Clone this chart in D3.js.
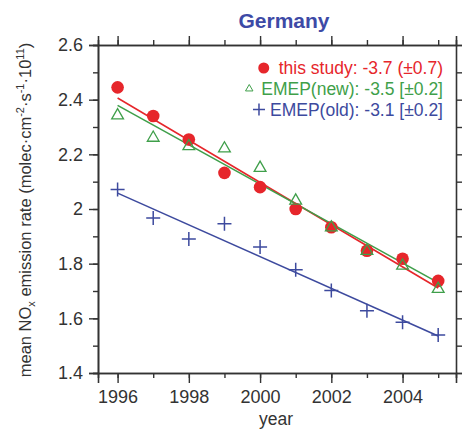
<!DOCTYPE html>
<html>
<head>
<meta charset="utf-8">
<script src="https://cdn.jsdelivr.net/npm/d3@7"></script>
<style>
body { margin: 0; background: #fff; }
text { font-family: "Liberation Sans", Arial, sans-serif; }
</style>
</head>
<body>
<div class="CHART"></div>
<script>
// values
var years = [1996, 1997, 1998, 1999, 2000, 2001, 2002, 2003, 2004, 2005];
var thisStudy = [2.445, 2.34, 2.254, 2.132, 2.08, 2.0, 1.933, 1.847, 1.818, 1.737];
var emepNew = [2.346, 2.264, 2.233, 2.225, 2.154, 2.034, 1.936, 1.85, 1.796, 1.711];
var emepOld = [2.071, 1.967, 1.89, 1.946, 1.861, 1.778, 1.702, 1.628, 1.586, 1.539];
var legendLabels = ["this study: -3.7 (\u00b10.7)", "EMEP(new): -3.5 [\u00b10.2]", "EMEP(old): -3.1 [\u00b10.2]"];
var xTicks = [1996, 1998, 2000, 2002, 2004];
var yTicks = [1.4, 1.6, 1.8, 2.0, 2.2, 2.4, 2.6];

var W = 465, H = 429;
var margin = {top: 45, right: 9, bottom: 56, left: 98};
var width = W - margin.left - margin.right,
    height = H - margin.top - margin.bottom;

var red = "#e6262b", green = "#3f9f4a", blue = "#3d4a9e", ink = "#333";

var svg = d3.select(".CHART").append("svg")
    .attr("width", W)
    .attr("height", H);
var g = svg.append("g").attr("transform", "translate(" + margin.left + "," + margin.top + ")");

var x = d3.scaleLinear().domain([1995.45, 2005.5]).range([0, width]);
var y = d3.scaleLinear().domain([1.4, 2.6]).range([height, 0]);

var allYears = d3.range(1996, 2006);
var minorY = d3.range(14, 27).map(function(d) { return d / 10; });

// minor + major ticks, all pointing outward
function tickSet(axisFn, scale, vals, size) {
    return axisFn(scale).tickValues(vals).tickSize(size).tickFormat("");
}
var gb = g.append("g").attr("transform", "translate(0," + height + ")");
gb.call(tickSet(d3.axisBottom, x, allYears, 5));
gb.append("g").call(d3.axisBottom(x).tickValues(xTicks).tickSize(10).tickPadding(7).tickFormat(d3.format("d")));
var gt = g.append("g");
gt.call(tickSet(d3.axisTop, x, allYears, 5));
gt.append("g").call(tickSet(d3.axisTop, x, xTicks, 9));
var gl = g.append("g");
gl.call(tickSet(d3.axisLeft, y, minorY, 5));
gl.append("g").call(d3.axisLeft(y).tickValues(yTicks).tickSize(9).tickPadding(6)
    .tickFormat(function(d) { return d === 2 ? "2" : d3.format(".1f")(d); }));
var gr = g.append("g").attr("transform", "translate(" + width + ",0)");
gr.call(tickSet(d3.axisRight, y, minorY, 6));

g.selectAll(".domain").attr("stroke", ink).attr("stroke-width", 1.6);
g.selectAll(".tick line").attr("stroke", ink).attr("stroke-width", 1.4);
g.selectAll(".tick text").attr("fill", ink).style("font-size", "18px");

// least-squares fit lines
function fit(vals) {
    var mx = d3.mean(years), my = d3.mean(vals);
    var sxy = d3.sum(years, function(d, i) { return (d - mx) * (vals[i] - my); });
    var sxx = d3.sum(years, function(d) { return (d - mx) * (d - mx); });
    var b = sxy / sxx;
    return [years[0], years[years.length - 1]].map(function(t) { return [t, my + b * (t - mx)]; });
}
var line = d3.line().x(function(d) { return x(d[0]); }).y(function(d) { return y(d[1]); });
[[emepOld, blue], [thisStudy, red], [emepNew, green]].forEach(function(s) {
    g.append("path").datum(fit(s[0])).attr("d", line)
        .attr("fill", "none").attr("stroke", s[1]).attr("stroke-width", 1.6);
});

var tri = d3.symbol().type(d3.symbolTriangle).size(60);
var plus = function(s) { return "M" + (-s) + ",0H" + s + "M0," + (-s) + "V" + s; };

g.selectAll(".old").data(emepOld).enter().append("path")
    .attr("transform", function(d, i) { return "translate(" + x(years[i]) + "," + y(d) + ")"; })
    .attr("d", plus(7)).attr("stroke", blue).attr("stroke-width", 1.5).attr("fill", "none");
g.selectAll(".study").data(thisStudy).enter().append("circle")
    .attr("cx", function(d, i) { return x(years[i]); })
    .attr("cy", function(d) { return y(d); })
    .attr("r", 6.3).attr("fill", red);
g.selectAll(".new").data(emepNew).enter().append("path")
    .attr("transform", function(d, i) { return "translate(" + x(years[i]) + "," + (y(d) + 1) + ")"; })
    .attr("d", tri).attr("stroke", green).attr("stroke-width", 1.3).attr("fill", "none");

// legend, right aligned
var colors = [red, green, blue];
var gaps = [15, 12, 11];
var lg = svg.append("g");
legendLabels.forEach(function(t, i) {
    var ly = 74 + i * 20.8;
    var tx = lg.append("text").attr("x", 443).attr("y", ly).attr("text-anchor", "end")
        .attr("fill", colors[i]).style("font-size", "17.5px").text(t);
    var bx = tx.node().getBBox().x;
    var mk = lg.append("g").attr("transform", "translate(" + (bx - gaps[i]) + "," + (ly - 6) + ")");
    if (i === 0) mk.append("circle").attr("r", 5.5).attr("fill", red);
    if (i === 1) mk.append("path").attr("d", d3.symbol().type(d3.symbolTriangle).size(24)).attr("fill", "none").attr("stroke", green).attr("stroke-width", 1);
    if (i === 2) mk.append("path").attr("d", plus(6)).attr("stroke", blue).attr("stroke-width", 1.5);
});

// title and axis labels
svg.append("text").attr("x", 284).attr("y", 28).attr("text-anchor", "middle")
    .attr("fill", "#3d4aa6").style("font-size", "21px").style("font-weight", "bold").text("Germany");
svg.append("text").attr("x", 276).attr("y", 425).attr("text-anchor", "middle")
    .attr("fill", ink).style("font-size", "17.5px").text("year");

var yl = svg.append("text").attr("transform", "translate(31,210) rotate(-90)")
    .attr("text-anchor", "middle").attr("fill", ink).style("font-size", "16.5px");
yl.append("tspan").text("mean NO");
yl.append("tspan").attr("dy", 4).style("font-size", "11px").text("x");
yl.append("tspan").attr("dy", -4).text(" emission rate (molec\u00b7cm");
yl.append("tspan").attr("dy", -7).style("font-size", "11px").text("-2");
yl.append("tspan").attr("dy", 7).text("\u00b7s");
yl.append("tspan").attr("dy", -7).style("font-size", "11px").text("-1");
yl.append("tspan").attr("dy", 7).text("\u00b710");
yl.append("tspan").attr("dy", -7).style("font-size", "11px").text("11");
yl.append("tspan").attr("dy", 7).text(")");
</script>
</body>
</html>
